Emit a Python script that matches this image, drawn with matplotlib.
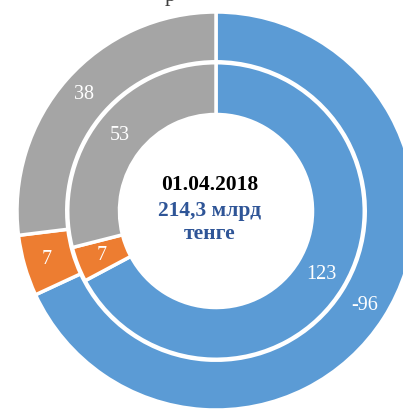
import matplotlib
matplotlib.use('Agg')
import matplotlib.pyplot as plt
import numpy as np

# data (clockwise from the top)
outer_values = [96, 7, 38]
outer_labels = ['-96', '7', '38']
inner_values = [123, 7, 53]
inner_labels = ['123', '7', '53']
colors = ['#5B9BD5', '#ED7D31', '#A5A5A5']

plt.rcParams['font.family'] = ['Liberation Serif', 'DejaVu Serif']

fig = plt.figure(figsize=(4.03, 4.09), dpi=100)
ax = fig.add_axes([0, 0, 1, 1])

R = 199.0  # outer radius in pixels
cx, cy = 216.0, 211.0  # pie centre in pixels (from top-left)

wedge_props = dict(edgecolor='white', linewidth=2.5)
w_out, _ = ax.pie(outer_values, radius=1.0, colors=colors, startangle=90,
                  counterclock=False, wedgeprops=dict(width=0.25, **wedge_props))
w_in, _ = ax.pie(inner_values, radius=0.745, colors=colors, startangle=90,
                 counterclock=False, wedgeprops=dict(width=0.26, **wedge_props))

for wedges, labels, dist in [(w_out, outer_labels, 0.885), (w_in, inner_labels, 0.615)]:
    for w, lab in zip(wedges, labels):
        ang = np.deg2rad((w.theta1 + w.theta2) / 2)
        ax.text(dist * np.cos(ang), dist * np.sin(ang), lab, ha='center', va='center',
                color='white', fontsize=14.5)

# centre text
ax.text(-0.03, 0.13, '01.04.2018', ha='center', va='center', fontsize=15.5,
        fontweight='bold', color='black')
ax.text(-0.03, 0.0, '214,3 млрд', ha='center', va='center', fontsize=15.5,
        fontweight='bold', color='#2F5597')
ax.text(-0.03, -0.115, 'тенге', ha='center', va='center', fontsize=15.5,
        fontweight='bold', color='#2F5597')

# the chart is cropped: set limits so 1 unit = R pixels
ax.set_xlim(-cx / R, (403 - cx) / R)
ax.set_ylim(-(409 - cy) / R, cy / R)
ax.set_aspect('auto')
ax.axis('off')

# cut-off title at the very top
fig.text(170 / 403, 1 - 1.5 / 409, 'р', ha='center', va='baseline',
         fontsize=16, color='#404040')

fig.savefig('out.png', dpi=100)
